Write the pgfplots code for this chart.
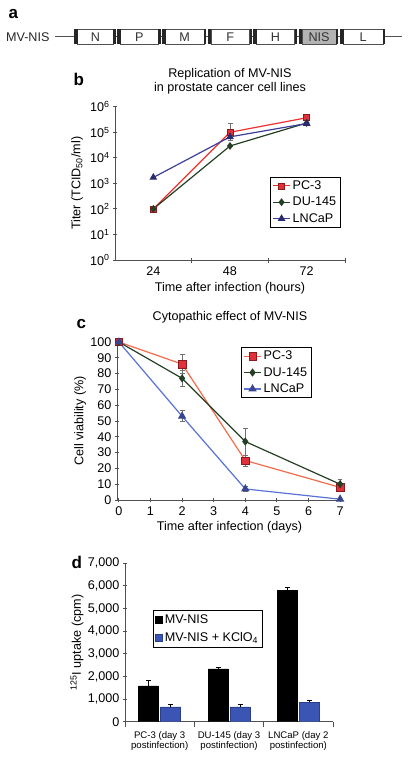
\documentclass[border=0pt]{standalone}
\usepackage{fontspec}
\setmainfont{Liberation Sans}
\usepackage{pgfplots}
\pgfplotsset{compat=1.18}
\definecolor{axgray}{HTML}{505050}
\definecolor{pcredb}{HTML}{F0302C}
\definecolor{pcredc}{HTML}{F26B4A}
\definecolor{pcfill}{HTML}{E0303A}
\definecolor{pcedge}{HTML}{8A1A1E}
\definecolor{dugreen}{HTML}{243F24}
\definecolor{lnb}{HTML}{3E3E9A}
\definecolor{lnbmark}{HTML}{2A2A70}
\definecolor{lnc}{HTML}{5A72D6}
\definecolor{lncmark}{HTML}{3A4590}
\definecolor{barblue}{HTML}{3B55B5}
\definecolor{barblueedge}{HTML}{2A3F8A}
\definecolor{errgray}{HTML}{707070}
\begin{document}
\begin{tikzpicture}
\useasboundingbox (0,0) rectangle (412pt,-760pt);
\pgfplotsset{
  base/.style={
    scale only axis, axis lines=left,
    axis line style={-, draw=axgray, line width=0.9pt},
    tick style={draw=axgray, line width=0.9pt},
    major tick length=4pt,
    font=\fontsize{12.6}{14}\selectfont,
    /pgf/number format/assume math mode=true,
    legend cell align=left,
    legend style={draw=black, line width=0.8pt, font=\fontsize{12.6}{14}\selectfont,
      inner xsep=2pt, inner ysep=1.5pt, row sep=2.2pt},
  },
  errline/.style={error bars/.cd, y dir=both, y explicit,
    error bar style={errgray, line width=0.8pt, solid},
    error mark options={rotate=90, errgray, mark size=2.5pt, line width=0.8pt}},
  errbar/.style={error bars/.cd, y dir=plus, y explicit,
    error bar style={black, line width=0.8pt},
    error mark options={rotate=90, black, mark size=2.5pt, line width=0.8pt}},
}

% ---------- panel a ----------
\node[anchor=base west, font=\bfseries\fontsize{17}{17}\selectfont] at (5pt,-18.3pt) {a};
\node[anchor=east, font=\fontsize{12.6}{14}\selectfont, text=black!85] at (53pt,-37pt) {MV-NIS};
\draw[line width=0.8pt, axgray] (55pt,-36.7pt) -- (402pt,-36.7pt);
\foreach \s/\e/\lab/\fc in {74/115.5/N/white, 117/160.5/P/white, 162/206/M/white, 207.5/251.7/F/white, 253/296.7/H/white, 298.5/338.3/NIS/black!30, 340/385/L/white}{
  \fill[white] (\s pt,-29.3pt) rectangle (\e pt,-44pt);
  \draw[axgray, line width=0.6pt, fill=\fc] (\s pt+3.5pt,-29.3pt) rectangle (\e pt-2.2pt,-44pt);
  \fill[black!85] (\s pt,-29.3pt) rectangle (\s pt+3.5pt,-44pt);
  \fill[black!85] (\e pt-2.2pt,-29.3pt) rectangle (\e pt,-44pt);
  \node[font=\fontsize{12.6}{14}\selectfont, text=black!80] at ({(\s+\e)/2*1pt+0.6pt},-36.9pt) {\lab};
}

% ---------- panel b ----------
\node[anchor=base west, font=\bfseries\fontsize{17}{17}\selectfont] at (70pt,-85pt) {b};
\begin{axis}[base,
  at={(115pt,-260pt)}, anchor=south west,
  width=230pt, height=153.3pt,
  ymode=log, xmin=0.5, xmax=3.5, ymin=1, ymax=1e6,
  xtick={1,2,3}, xticklabels={24,48,72},
  major x tick style={draw=none},
  minor xtick={1.5,2.5,3.5},
  minor x tick style={draw=axgray, line width=0.9pt},
  minor tick length=5pt,
  x tick label style={yshift=-1pt},
  ytick={1,10,100,1000,10000,100000,1000000},
  yticklabels={10\textsuperscript{0},10\textsuperscript{1},10\textsuperscript{2},10\textsuperscript{3},10\textsuperscript{4},10\textsuperscript{5},10\textsuperscript{6}},
  minor y tick style={draw=none},
  xlabel={Time after infection (hours)},
  xlabel style={at={(axis description cs:0.5,-0.183)}, anchor=center},
  ylabel={Titer (TCID\textsubscript{50}/ml)},
  ylabel style={at={(axis description cs:-0.165,0.5)}, anchor=center},
  title={Replication of MV-NIS\\in prostate cancer cell lines},
  title style={align=center, at={(0.5,1.128)}, anchor=center},
  legend style={at={(0.674,0.543)}, anchor=north west},
]
\addplot[pcredb, line width=1.2pt, mark=square*, mark size=3pt,
  mark options={fill=pcfill, draw=pcedge, line width=0.6pt}, errline]
  coordinates {(1,100) +- (0,0) (2,1.0e5) += (0,1.2e5) -= (0,5e4) (3,3.7e5) +- (0,3e4)};
\addlegendentry{PC-3}
\addplot[dugreen, line width=1.2pt, mark=diamond*, mark size=3pt,
  mark options={fill=dugreen, draw=dugreen}, errline]
  coordinates {(1,100) +- (0,0) (2,2.9e4) +- (0,0) (3,2.3e5) +- (0,2e4)};
\addlegendentry{DU-145}
\addplot[lnb, line width=1.2pt, mark=triangle*, mark size=3.3pt,
  mark options={fill=lnbmark, draw=lnbmark}, errline]
  coordinates {(1,1.7e3) +- (0,0) (2,6.6e4) +- (0,0) (3,2.2e5) +- (0,2e4)};
\addlegendentry{LNCaP}
\end{axis}

% ---------- panel c ----------
\node[anchor=base west, font=\bfseries\fontsize{17}{17}\selectfont] at (73pt,-328pt) {c};
\begin{axis}[base,
  at={(117pt,-500pt)}, anchor=south west,
  width=225pt, height=158pt,
  xmin=-0.06, xmax=7.06, ymin=0, ymax=100,
  xtick={0,1,2,3,4,5,6,7},
  ytick={0,10,20,30,40,50,60,70,80,90,100},
  x tick style={draw=axgray, line width=0.9pt},
  xtick align=center,
  x tick label style={yshift=-1pt},
  xlabel={Time after infection (days)},
  xlabel style={at={(axis description cs:0.5,-0.175)}, anchor=center},
  ylabel={Cell viability (\%)},
  ylabel style={at={(axis description cs:-0.164,0.5)}, anchor=center},
  title={Cytopathic effect of MV-NIS},
  title style={at={(0.502,1.12)}, anchor=center},
  legend style={at={(0.551,0.968)}, anchor=north west},
]
\addplot[pcredc, line width=1.2pt, mark=square*, mark size=3.7pt,
  mark options={fill=pcfill, draw=pcedge, line width=0.6pt}, errline]
  coordinates {(0,100) +- (0,0) (2,86) +- (0,6) (4,25) +- (0,3.5) (7,8) +- (0,2)};
\addlegendentry{PC-3}
\addplot[dugreen, line width=1.2pt, mark=diamond*, mark size=3.2pt,
  mark options={fill=dugreen, draw=dugreen}, errline]
  coordinates {(0,100) +- (0,0) (2,77) +- (0,5) (4,37) +- (0,8.5) (7,10) +- (0,3)};
\addlegendentry{DU-145}
\addplot[lnc, line width=1.2pt, mark=triangle*, mark size=3.7pt,
  mark options={fill=lncmark, draw=lncmark}, errline]
  coordinates {(0,100) +- (0,0) (2,53) +- (0,3.5) (4,7) +- (0,1.5) (7,0.5) +- (0,0.5)};
\addlegendentry{LNCaP}
\end{axis}

% ---------- panel d ----------
\node[anchor=base west, font=\bfseries\fontsize{17}{17}\selectfont] at (68pt,-568pt) {d};
\begin{axis}[base,
  at={(125pt,-721.7pt)}, anchor=south west,
  width=208pt, height=158.4pt,
  ybar, bar width=20pt,
  xmin=0.5, xmax=3.5, ymin=0, ymax=7000,
  xtick={1,2,3},
  xticklabels={PC-3 (day 3\\postinfection), DU-145 (day 3\\postinfection), LNCaP (day 2\\postinfection)},
  x tick label style={align=center, font=\fontsize{9.6}{10.5}\selectfont, yshift=-2pt},
  major x tick style={draw=none},
  minor xtick={0.5,1.5,2.5,3.5},
  minor x tick style={draw=axgray, line width=0.9pt},
  minor tick length=5pt,
  ytick={0,1000,2000,3000,4000,5000,6000,7000},
  yticklabel style={/pgf/number format/.cd, fixed, 1000 sep={,}},
  scaled y ticks=false,
  ylabel={\textsuperscript{125}I uptake (cpm)},
  ylabel style={at={(axis description cs:-0.231,0.5)}, anchor=center},
  legend style={at={(0.133,0.705)}, anchor=north west, inner ysep=2.5pt, row sep=3pt},
  legend image code/.code={\draw[#1] (0pt,-3.5pt) rectangle (7pt,3.5pt);},
]
\addplot[fill=black, draw=black, errbar] coordinates {(1,1580) +- (0,230) (2,2340) +- (0,40) (3,5800) +- (0,150)};
\addlegendentry{MV-NIS}
\addplot[fill=barblue, draw=barblueedge, errbar] coordinates {(1,660) +- (0,100) (2,660) +- (0,100) (3,850) +- (0,80)};
\addlegendentry{MV-NIS + KClO\textsubscript{4}}
\end{axis}
\end{tikzpicture}
\end{document}
